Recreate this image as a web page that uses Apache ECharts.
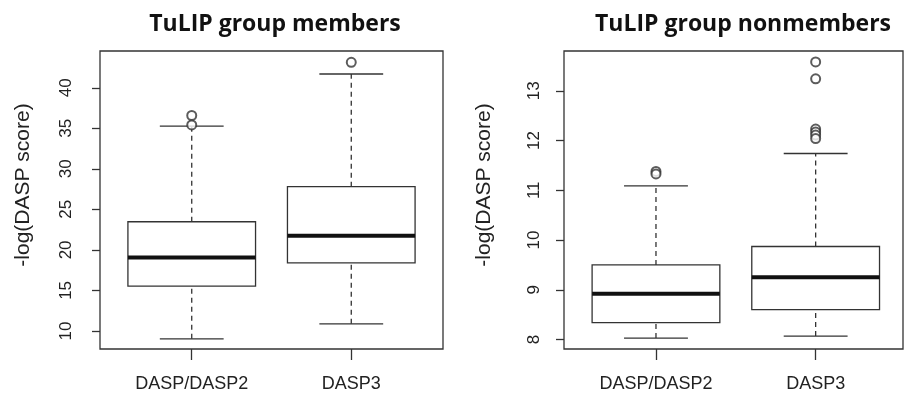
<!DOCTYPE html>
<html>
<head>
<meta charset="utf-8">
<script src="https://cdn.jsdelivr.net/npm/echarts@6/dist/echarts.min.js"></script>
<style>
  html, body { margin: 0; padding: 0; background: #fff; }
  #chart { width: 904px; height: 395px; }
</style>
</head>
<body>
<div id="chart"></div>
<script>
// R style boxplots, two panels
const categories = ['DASP/DASP2', 'DASP3'];

// [lower whisker, Q1, median, Q3, upper whisker]
const membersStats = [
  [9.02, 15.54, 19.05, 23.47, 35.26],
  [10.88, 18.39, 21.73, 27.80, 41.70]
];
const membersOutliers = [[1, 36.58], [1, 35.42], [2, 43.14]];
const membersTicks = [10, 15, 20, 25, 30, 35, 40];

const nonmembersStats = [
  [8.03, 8.34, 8.92, 9.50, 11.09],
  [8.07, 8.60, 9.25, 9.87, 11.74]
];
const nonmembersOutliers = [
  [1, 11.38], [1, 11.33],
  [2, 13.58], [2, 13.24], [2, 12.23], [2, 12.17], [2, 12.11], [2, 12.04]
];
const nonmembersTicks = [8, 9, 10, 11, 12, 13];

const BOX_WIDTH = 0.8;
const INK = '#333';
const LABEL_FONT = 'Liberation Sans, Arial, sans-serif';

function renderBox(params, api) {
  const x = api.value(0);
  const pLo = api.coord([x, api.value(1)]);
  const pQ1 = api.coord([x, api.value(2)]);
  const pMed = api.coord([x, api.value(3)]);
  const pQ3 = api.coord([x, api.value(4)]);
  const pHi = api.coord([x, api.value(5)]);
  const boxW = api.size([BOX_WIDTH, 0])[0];
  const capW = boxW / 2;
  const cx = pMed[0];
  const solid = { stroke: INK, lineWidth: 1.3, fill: null };
  const dashed = { stroke: INK, lineWidth: 1.3, fill: null, lineDash: [5, 4] };
  return {
    type: 'group',
    children: [
      { type: 'line', shape: { x1: cx, y1: pQ3[1], x2: cx, y2: pHi[1] }, style: dashed },
      { type: 'line', shape: { x1: cx, y1: pLo[1], x2: cx, y2: pQ1[1] }, style: dashed },
      { type: 'line', shape: { x1: cx - capW / 2, y1: pHi[1], x2: cx + capW / 2, y2: pHi[1] }, style: solid },
      { type: 'line', shape: { x1: cx - capW / 2, y1: pLo[1], x2: cx + capW / 2, y2: pLo[1] }, style: solid },
      {
        type: 'rect',
        shape: { x: cx - boxW / 2, y: pQ3[1], width: boxW, height: pQ1[1] - pQ3[1] },
        style: { stroke: INK, lineWidth: 1.3, fill: '#fff' }
      },
      { type: 'line', shape: { x1: cx - boxW / 2, y1: pMed[1], x2: cx + boxW / 2, y2: pMed[1] }, style: { stroke: '#111', lineWidth: 4 } }
    ]
  };
}

function xAxisFor(gridIndex, min, max) {
  return {
    type: 'value', gridIndex: gridIndex, min: min, max: max,
    splitLine: { show: false },
    axisLine: { show: false },
    axisTick: { customValues: [1, 2], length: 11, lineStyle: { color: INK, width: 1.3 } },
    axisLabel: {
      customValues: [1, 2], margin: 26,
      formatter: v => categories[Math.round(v) - 1],
      fontFamily: LABEL_FONT, fontSize: 18, color: '#222'
    }
  };
}

function yAxisFor(gridIndex, min, max, ticks, margin) {
  return {
    type: 'value', gridIndex: gridIndex, min: min, max: max,
    splitLine: { show: false },
    axisLine: { show: false },
    axisTick: { customValues: ticks, length: 8, lineStyle: { color: INK, width: 1.3 } },
    axisLabel: {
      customValues: ticks, rotate: 90, margin: margin,
      align: 'center', verticalAlign: 'bottom',
      fontFamily: LABEL_FONT, fontSize: 17, color: '#222'
    }
  };
}

const titleStyle = { fontFamily: 'Open Sans', fontWeight: 'bold', fontSize: 23, color: '#111' };

const chart = echarts.init(document.getElementById('chart'));
chart.setOption({
  backgroundColor: '#fff',
  animation: false,
  title: [
    { text: 'TuLIP group members', left: 270, top: 8, textAlign: 'center', textStyle: titleStyle },
    { text: 'TuLIP group nonmembers', left: 738, top: 8, textAlign: 'center', textStyle: titleStyle }
  ],
  grid: [
    { left: 100, top: 51, width: 343, height: 298, show: true, borderColor: INK, borderWidth: 1.3 },
    { left: 564, top: 51, width: 339, height: 298, show: true, borderColor: INK, borderWidth: 1.3 }
  ],
  xAxis: [xAxisFor(0, 0.425, 2.575), xAxisFor(1, 0.424, 2.547)],
  yAxis: [
    yAxisFor(0, 7.77, 44.54, membersTicks, 25),
    yAxisFor(1, 7.81, 13.80, nonmembersTicks, 21)
  ],
  graphic: [
    {
      type: 'text', x: 23, y: 185, rotation: Math.PI / 2,
      style: { text: '-log(DASP score)', font: '21px Liberation Sans', fill: '#222', align: 'center', verticalAlign: 'middle' }
    },
    {
      type: 'text', x: 484, y: 185, rotation: Math.PI / 2,
      style: { text: '-log(DASP score)', font: '21px Liberation Sans', fill: '#222', align: 'center', verticalAlign: 'middle' }
    }
  ],
  series: [
    {
      type: 'custom', xAxisIndex: 0, yAxisIndex: 0,
      renderItem: renderBox,
      encode: { x: 0, y: [1, 2, 3, 4, 5] },
      data: membersStats.map((s, i) => [i + 1].concat(s))
    },
    {
      type: 'scatter', xAxisIndex: 0, yAxisIndex: 0,
      symbol: 'emptyCircle', symbolSize: 9,
      itemStyle: { color: INK, borderWidth: 1.3 },
      data: membersOutliers
    },
    {
      type: 'custom', xAxisIndex: 1, yAxisIndex: 1,
      renderItem: renderBox,
      encode: { x: 0, y: [1, 2, 3, 4, 5] },
      data: nonmembersStats.map((s, i) => [i + 1].concat(s))
    },
    {
      type: 'scatter', xAxisIndex: 1, yAxisIndex: 1,
      symbol: 'emptyCircle', symbolSize: 9,
      itemStyle: { color: INK, borderWidth: 1.3 },
      data: nonmembersOutliers
    }
  ]
});
</script>
</body>
</html>
